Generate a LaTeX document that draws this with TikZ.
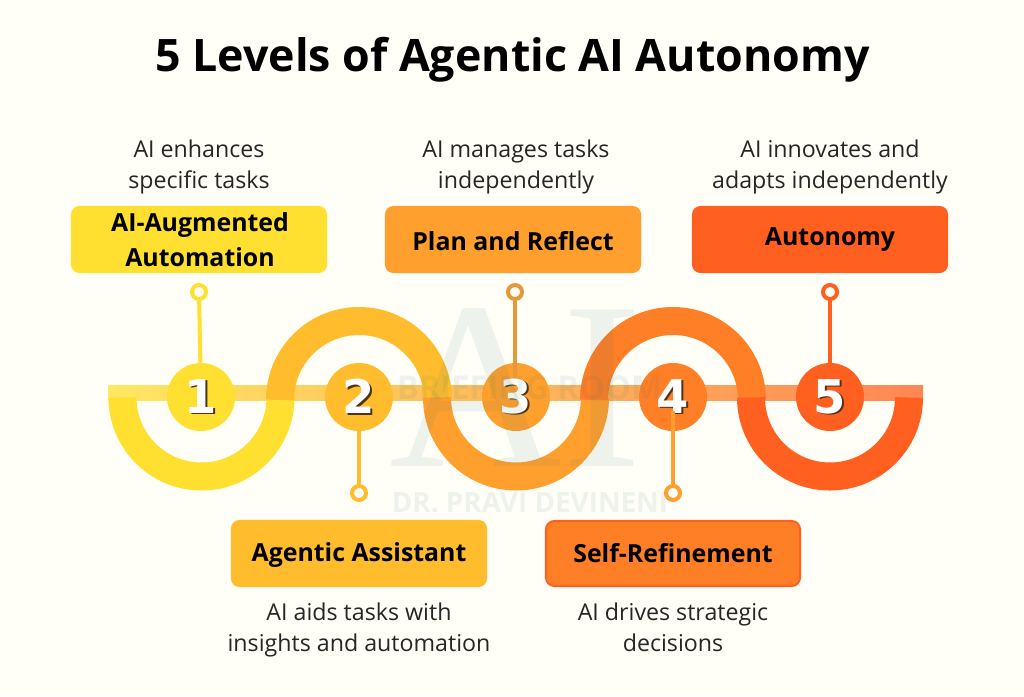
\documentclass[tikz,border=0pt]{standalone}
\usepackage{fontspec}
\setmainfont{Open Sans}
\newfontfamily\markfont{Liberation Serif}
\newfontfamily\numfont{DejaVu Sans}
\definecolor{paper}{HTML}{FFFEF7}
\definecolor{lvlA}{HTML}{FFE030}
\definecolor{lvlB}{HTML}{FFBD2E}
\definecolor{lvlC}{HTML}{FF9F2D}
\definecolor{lvlD}{HTML}{FF7F27}
\definecolor{lvlE}{HTML}{FF5F1F}
\definecolor{markgrey}{HTML}{1E6E6E}
\begin{document}
\begin{tikzpicture}[
    x=0.025cm, y=-0.025cm,
    titletxt/.style={font=\fontsize{31.8}{32}\selectfont\bfseries, text=black, inner sep=0pt},
    desc/.style={font=\fontsize{16.5}{22}\selectfont, text=black!85, align=center, inner sep=0pt},
    box/.style={rectangle, rounded corners=6pt, minimum width=6.4cm, minimum height=1.675cm, inner sep=0pt, align=center,
        font=\fontsize{17.7}{24.5}\selectfont\bfseries, text=black},
    wave/.style={line width=0.7cm},
    num/.style={circle, minimum size=1.7cm, inner sep=0pt},
    digit/.style={font=\fontsize{33}{33}\selectfont\numfont\bfseries, text=white, inner sep=0pt},
    digshadow/.style={font=\fontsize{33}{33}\selectfont\numfont\bfseries, text=black!60!brown, inner sep=0pt},
    ring/.style={circle, line width=0.1cm, fill=paper, minimum size=0.35cm, inner sep=0pt},
    stem/.style={line width=0.1cm},
    wmark/.style={text=markgrey, opacity=0.08, inner sep=0pt}
]
    \useasboundingbox (0,0) rectangle (1024,696);
    \fill[paper] (0,0) rectangle (1024,696);

    % --- title ---
    \node[titletxt] (title) at (512.5,60) {5 Levels of Agentic AI Autonomy};

    % --- band and waves ---
    \shade[left color=lvlA!75!paper, right color=lvlE!75!paper] (108.5,385) rectangle (923,400);

    \coordinate (w1) at (122.5,397.5);
    \coordinate (w2) at (280,400);
    \coordinate (w3) at (437,397.5);
    \coordinate (w4) at (594,400);
    \coordinate (w5) at (751,397.5);

    \draw[wave, lvlA] (w1) arc[start angle=180, end angle=0, radius=79];
    \draw[wave, lvlB] (w2) arc[start angle=180, end angle=360, radius=79];
    \draw[wave, lvlC] (w3) arc[start angle=180, end angle=0, radius=79];
    \draw[wave, lvlD] (w4) arc[start angle=180, end angle=360, radius=79];
    \draw[wave, lvlE] (w5) arc[start angle=180, end angle=0, radius=79];

    % --- numbered circles ---
    \node[num, fill=lvlA] (n1) at (201,397) {};
    \node[num, fill=lvlB] (n2) at (359,397) {};
    \node[num, fill=lvlC] (n3) at (516,397) {};
    \node[num, fill=lvlD] (n4) at (673,397) {};
    \node[num, fill=lvlE] (n5) at (830,397) {};

    \node[digshadow] (s1) at (203,398) {1}; \node[digit] (d1) at (201,396.5) {1};
    \node[digshadow] (s2) at (361,398) {2}; \node[digit] (d2) at (359,396.5) {2};
    \node[digshadow] (s3) at (518,398) {3}; \node[digit] (d3) at (516,396.5) {3};
    \node[digshadow] (s4) at (675,398) {4}; \node[digit] (d4) at (673,396.5) {4};
    \node[digshadow] (s5) at (832,398) {5}; \node[digit] (d5) at (830,396.5) {5};

    % --- stems ---
    \node[ring, draw=lvlA] (r1) at (199,292) {};
    \node[ring, draw=lvlB] (r2) at (359,493) {};
    \node[ring, draw=lvlC!80!gray] (r3) at (515,292) {};
    \node[ring, draw=lvlC] (r4) at (673,493) {};
    \node[ring, draw=lvlE] (r5) at (830,292) {};

    \coordinate (t3) at (515,378);
    \coordinate (t4) at (673,411);

    \draw[stem, lvlA] (r1) -- (n1);
    \draw[stem, lvlB] (r2) -- (n2);
    \draw[stem, lvlC!80!gray] (r3) -- (t3);
    \draw[stem, lvlC] (r4) -- (t4);
    \draw[stem, lvlE] (r5) -- (n5);

    % --- boxes ---
    \node[box, fill=lvlA] (b1) at (199,239.5) {\hspace{0.05cm}AI-Augmented\\\hspace{0.05cm}Automation};
    \node[box, text height=11pt, text depth=0pt, fill=lvlB] (b2) at (359,553.5) {Agentic Assistant};
    \node[box, text height=15.3pt, text depth=0pt, fill=lvlC] (b3) at (513,239.5) {Plan and Reflect};
    \node[box, fill=lvlD, draw=lvlE, line width=0.05cm, minimum width=6.35cm, minimum height=1.625cm] (b4) at (673,553.5) {Self-Refinement};
    \node[box, fill=lvlE] (b5) at (820,239.5) {\hspace{0.5cm}Autonomy};

    % --- descriptions ---
    \node[desc] (t1) at (199,167) {AI enhances\\specific tasks};
    \node[desc] (t2) at (359,630) {AI aids tasks with\\insights and automation};
    \node[desc] (t3b) at (516,167) {AI manages tasks\\independently};
    \node[desc] (t4b) at (673,627) {AI drives strategic\\decisions};
    \node[desc] (t5) at (830,167) {AI innovates and\\adapts independently};

    % --- watermark ---
    \node[wmark, font=\fontsize{170}{170}\selectfont\markfont] (m1) at (516,388) {AI};
    \node[wmark, font=\fontsize{23.3}{24}\selectfont\bfseries] (m2) at (529.5,388) {BRIEFING ROOM};
    \node[wmark, font=\fontsize{19.8}{20}\selectfont\bfseries] (m3) at (530,503) {DR. PRAVI DEVINENI};
\end{tikzpicture}
\end{document}
